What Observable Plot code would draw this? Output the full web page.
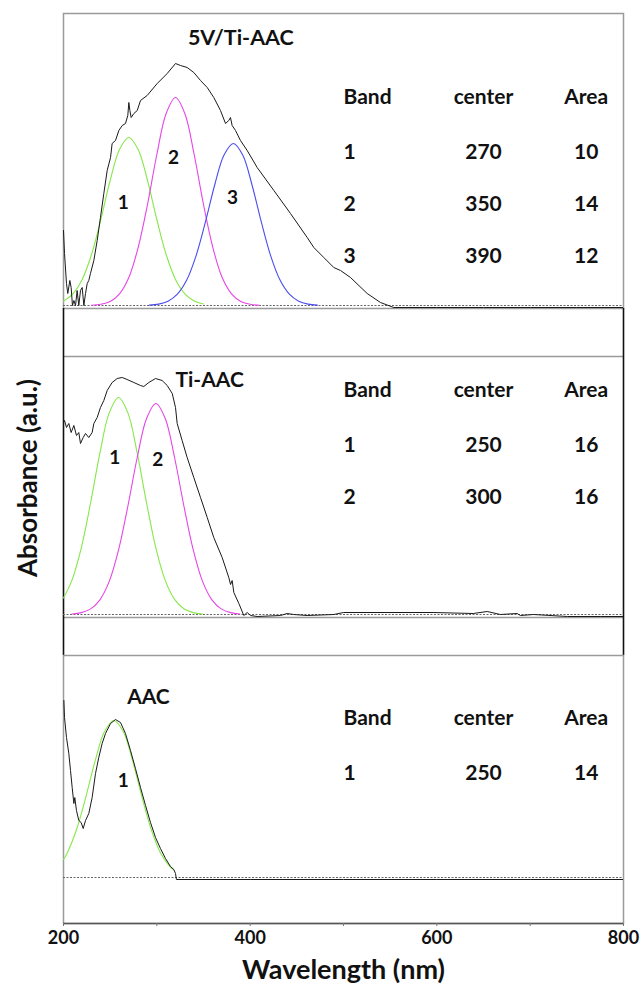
<!DOCTYPE html>
<html><head><meta charset="utf-8">
<script src="https://cdn.jsdelivr.net/npm/d3@7"></script>
<script src="https://cdn.jsdelivr.net/npm/@observablehq/plot@0.6"></script>
<style>
body{margin:0;background:#fff;}
#chart{position:relative;width:640px;height:986px;overflow:hidden;font-family:Lato,sans-serif;}
#chart svg{position:absolute;left:0;}
#ylabel{position:absolute;left:27px;top:478px;transform:translate(-50%,-50%) rotate(-90deg);font:bold 26px Lato,sans-serif;white-space:nowrap;color:#111;}
</style></head><body><div id="chart"><div id="ylabel">Absorbance (a.u.)</div></div>
<script>
// ---------- data ----------
const xTicks = [200,300,400,500,600,700,800];
const tableHeader = ["Band","center","Area"];
const titles = ["5V/Ti-AAC","Ti-AAC","AAC"];
const xLabel = "Wavelength (nm)";

// Panel 1 : 5V/Ti-AAC
const p1Wl = [200,201.1,203.2,204.6,206.8,208.2,209.6,211.1,212.9,214.6,216.4,218.2,220,221.8,223.6,225.4,227.1,228.9,232.5,236.1,239.6,243.2,246.8,250.4,252.1,255.7,259.3,262.9,266.4,268.9,270,271.1,272.5,275.4,279,282.5,289.6,300.4,311.1,320,325.4,332.5,339.6,346.8,354,361,368.2,373.6,377.1,378.9,380.7,384.3,389.6,396.8,407.5,425.4,443.2,461.1,468.2,478.9,489.6,496.8,507.5,525.4,539.6,553.9,600,650,700,750,800];
const p1Abs = [0.75,0.52,0.22,0.12,0.25,0.18,0.0,0.05,0.0,0.15,0.0,0.15,0.18,0.0,0.12,0.22,0.25,0.32,0.45,0.65,0.88,1.12,1.35,1.48,1.62,1.65,1.75,1.80,1.82,1.90,2.03,1.95,1.88,1.92,1.95,2.05,2.10,2.22,2.32,2.42,2.40,2.38,2.33,2.25,2.18,2.08,1.95,1.82,1.85,1.88,1.80,1.75,1.65,1.55,1.38,1.15,0.92,0.68,0.58,0.48,0.38,0.35,0.28,0.12,0.03,-0.02,-0.02,-0.02,-0.02,-0.02,-0.02];
const p1Band1Wl = [200,210,220,230,240,250,260,270,280,290,300,310,320,330,340,350];
const p1Band1Abs = [0.045,0.117,0.26,0.51,0.86,1.25,1.56,1.68,1.56,1.25,0.86,0.51,0.26,0.117,0.045,0.015];
const p1Band2Wl = [230,240,250,260,270,280,290,300,310,320,330,340,350,360,370,380,390,400,410];
const p1Band2Abs = [0.003,0.012,0.041,0.117,0.28,0.58,1.01,1.51,1.92,2.08,1.92,1.51,1.01,0.58,0.28,0.117,0.041,0.012,0.003];
const p1Band3Wl = [292,302,312,322,332,342,352,362,372,382,392,402,412,422,432,442,452,462,472];
const p1Band3Abs = [0.004,0.014,0.043,0.113,0.254,0.496,0.833,1.205,1.505,1.62,1.505,1.205,0.833,0.496,0.254,0.113,0.043,0.014,0.004];
const p1Bands = ["1","2","3"];
const p1Centers = [270,350,390];
const p1Areas = [10,14,12];

// Panel 2 : Ti-AAC
const p2Wl = [200,201.1,203.2,205.7,208.2,211.1,213.9,216.4,218.2,221.1,223.6,227.1,230.7,232.5,236.1,239.6,243.2,246.8,252.1,257.5,262.9,268.2,275.4,282.5,286,291.4,298.6,305.7,311.1,316.5,320,321.8,327.1,332.5,339.6,346.8,354,361,370,377.1,379,380.7,382.5,387.9,393.2,396.8,400.4,407.5,432.5,439.6,446.8,461,489.6,500,596,639,654,668,686,689.6,703.6,740,775,800];
const p2Abs = [1.92,1.94,1.87,1.91,1.82,1.89,1.79,1.82,1.71,1.77,1.81,1.77,1.82,1.91,1.97,2.07,2.14,2.24,2.32,2.36,2.37,2.35,2.32,2.29,2.28,2.32,2.36,2.34,2.29,2.21,2.07,1.91,1.74,1.57,1.37,1.17,0.97,0.77,0.57,0.37,0.30,0.34,0.22,0.11,-0.01,0.02,-0.01,-0.02,-0.01,0.01,0.0,-0.01,0.0,0.02,0.02,0.01,0.03,0.0,0.01,-0.01,0.0,-0.02,-0.02,-0.02];
const p2Band1Wl = [200,209,219,229,239,249,259,269,279,289,299,309,319,329,339,349];
const p2Band1Abs = [0.165,0.341,0.664,1.115,1.614,2.016,2.17,2.016,1.614,1.115,0.664,0.341,0.151,0.058,0.019,0.005];
const p2Band2Wl = [209,219,229,239,249,259,269,279,289,299,309,319,329,339,349,359,369,379,389];
const p2Band2Abs = [0.005,0.019,0.056,0.147,0.331,0.646,1.085,1.57,1.96,2.11,1.96,1.57,1.085,0.646,0.331,0.147,0.056,0.019,0.005];
const p2Bands = ["1","2"];
const p2Centers = [250,300];
const p2Areas = [16,16];

// Panel 3 : AAC
const p3Wl = [200.4,201.1,203.2,205.7,207.5,209.3,211.1,212.1,213.9,216.4,218.9,221.1,223.6,227.1,230.7,234.3,237.8,241.4,245,250.4,255.7,261.1,266.4,271.8,277.1,282.5,287.9,293.2,298.6,303.9,309.3,314.6,318.2,320,321,400,500,600,700,800];
const p3Abs = [1.77,1.6,1.4,1.24,1.07,0.9,0.74,0.8,0.67,0.57,0.55,0.49,0.57,0.64,0.8,1.04,1.2,1.34,1.44,1.54,1.58,1.55,1.44,1.27,1.09,0.9,0.72,0.55,0.4,0.29,0.19,0.11,0.08,0.04,-0.02,-0.02,-0.02,-0.02,-0.02,-0.02];
const p3Band1Wl = [200,204,214,224,234,244,254,264,274,284,294,304,314,318];
const p3Band1Abs = [0.18,0.246,0.48,0.807,1.168,1.459,1.57,1.459,1.168,0.807,0.48,0.246,0.109,0.076];
const p3Bands = ["1"];
const p3Centers = [250];
const p3Areas = [14];

// ---------- helpers ----------
const GREEN = "#86e84a", MAGENTA = "#e646e6", BLUE = "#4b4bef", BLACK = "#1a1a1a";
const pts = (w, a) => w.map((x, i) => ({x, y: a[i]}));
const spec = (w, a) => Plot.line(pts(w, a), {x: "x", y: "y", stroke: BLACK, strokeWidth: 1, clip: true});
const band = (w, a, c) => Plot.line(pts(w, a), {x: "x", y: "y", stroke: c, strokeWidth: 1.1, curve: "catmull-rom", clip: true});
const baseline = Plot.ruleY([0], {stroke: "#666", strokeWidth: 1, strokeDasharray: "2,1.5"});
const label = (t, x, y, size, anchor = "middle") =>
  Plot.text([t], {text: d => d, x: () => x, y: () => y, fontSize: size, fontWeight: "bold", fill: "#111", textAnchor: anchor});
const colX = [500, 650, 760];
function table(bands, centers, areas, headerY) {
  const rows = [tableHeader, ...bands.map((b, i) => [b, String(centers[i]), String(areas[i])])];
  const cells = rows.flatMap((r, ri) => r.map((t, ci) => ({t, ci, y: ri === 0 ? headerY : headerY - 0.55 - 0.52 * (ri - 1)})));
  return [
    Plot.text(cells.filter(d => d.ci === 0), {x: d => colX[0], y: "y", text: "t", textAnchor: "start", fontSize: 21, fontWeight: "bold", fill: "#111"}),
    Plot.text(cells.filter(d => d.ci > 0), {x: d => colX[d.ci], y: "y", text: "t", textAnchor: "middle", fontSize: 21, fontWeight: "bold", fill: "#111"})
  ];
}
function panel(top, height, marginTop, marginBottom, yDomain, marks) {
  const svg = Plot.plot({
    width: 640, height, marginTop, marginBottom, marginLeft: 63, marginRight: 17,
    x: {domain: [200, 800]},
    y: {domain: yDomain, axis: null},
    style: {fontFamily: "Lato, sans-serif", background: "transparent", overflow: "visible", color: "#111"},
    marks
  });
  svg.style.top = top + "px";
  document.getElementById("chart").appendChild(svg);
}

// ---------- panel 1 ----------
const y1 = [-0.03, 2.92];
panel(0, 310, 13, 2, y1, [
  Plot.frame({stroke: "#9a9a9a", strokeWidth: 1.5}),
  baseline,
  band(p1Band1Wl, p1Band1Abs, GREEN),
  band(p1Band2Wl, p1Band2Abs, MAGENTA),
  band(p1Band3Wl, p1Band3Abs, BLUE),
  spec(p1Wl, p1Abs),
  label(titles[0], 390, 2.67, 21.5),
  label("1", 264, 1.03, 19), label("2", 318, 1.48, 19), label("3", 381, 1.08, 19),
  ...table(p1Bands, p1Centers, p1Areas, 2.08),
  Plot.axisX({ticks: [], label: null})
]);

// ---------- panel 2 ----------
const y2 = [-0.03, 2.58];
panel(308, 348, 48, 39, y2, [
  Plot.ruleY([y2[0], y2[1]], {stroke: "#9a9a9a", strokeWidth: 1.5}),
  Plot.ruleX([200, 800], {stroke: "#111", strokeWidth: 1.6, insetTop: -48, insetBottom: -38}),
  baseline,
  band(p2Band1Wl, p2Band1Abs, GREEN),
  band(p2Band2Wl, p2Band2Abs, MAGENTA),
  spec(p2Wl, p2Abs),
  label(titles[1], 320, 2.34, 21, "start"),
  label("1", 255, 1.57, 19), label("2", 301, 1.55, 19),
  ...table(p2Bands, p2Centers, p2Areas, 2.24),
  Plot.axisX({ticks: [], label: null})
]);

// ---------- panel 3 ----------
const y3 = [-0.46, 2.22];
panel(654, 332, 1, 63, y3, [
  Plot.frame({stroke: "#9a9a9a", strokeWidth: 1.5}),
  Plot.ruleY([y3[0]], {stroke: "#555", strokeWidth: 1.5}),
  baseline,
  band(p3Band1Wl, p3Band1Abs, GREEN),
  spec(p3Wl, p3Abs),
  label(titles[2], 291, 1.8, 21),
  label("1", 264, 0.97, 19),
  ...table(p3Bands, p3Centers, p3Areas, 1.59),
  Plot.axisX({ticks: xTicks, tickFormat: d => d % 200 === 0 ? String(d) : "", tickSize: 3, tickPadding: 5, fontSize: 18, fontWeight: "bold", label: null, stroke: "#777"}),
  Plot.text([xLabel], {text: d => d, frameAnchor: "bottom", dy: 55, fontSize: 27, fontWeight: "bold", fill: "#111"})
]);
</script>
</body></html>
